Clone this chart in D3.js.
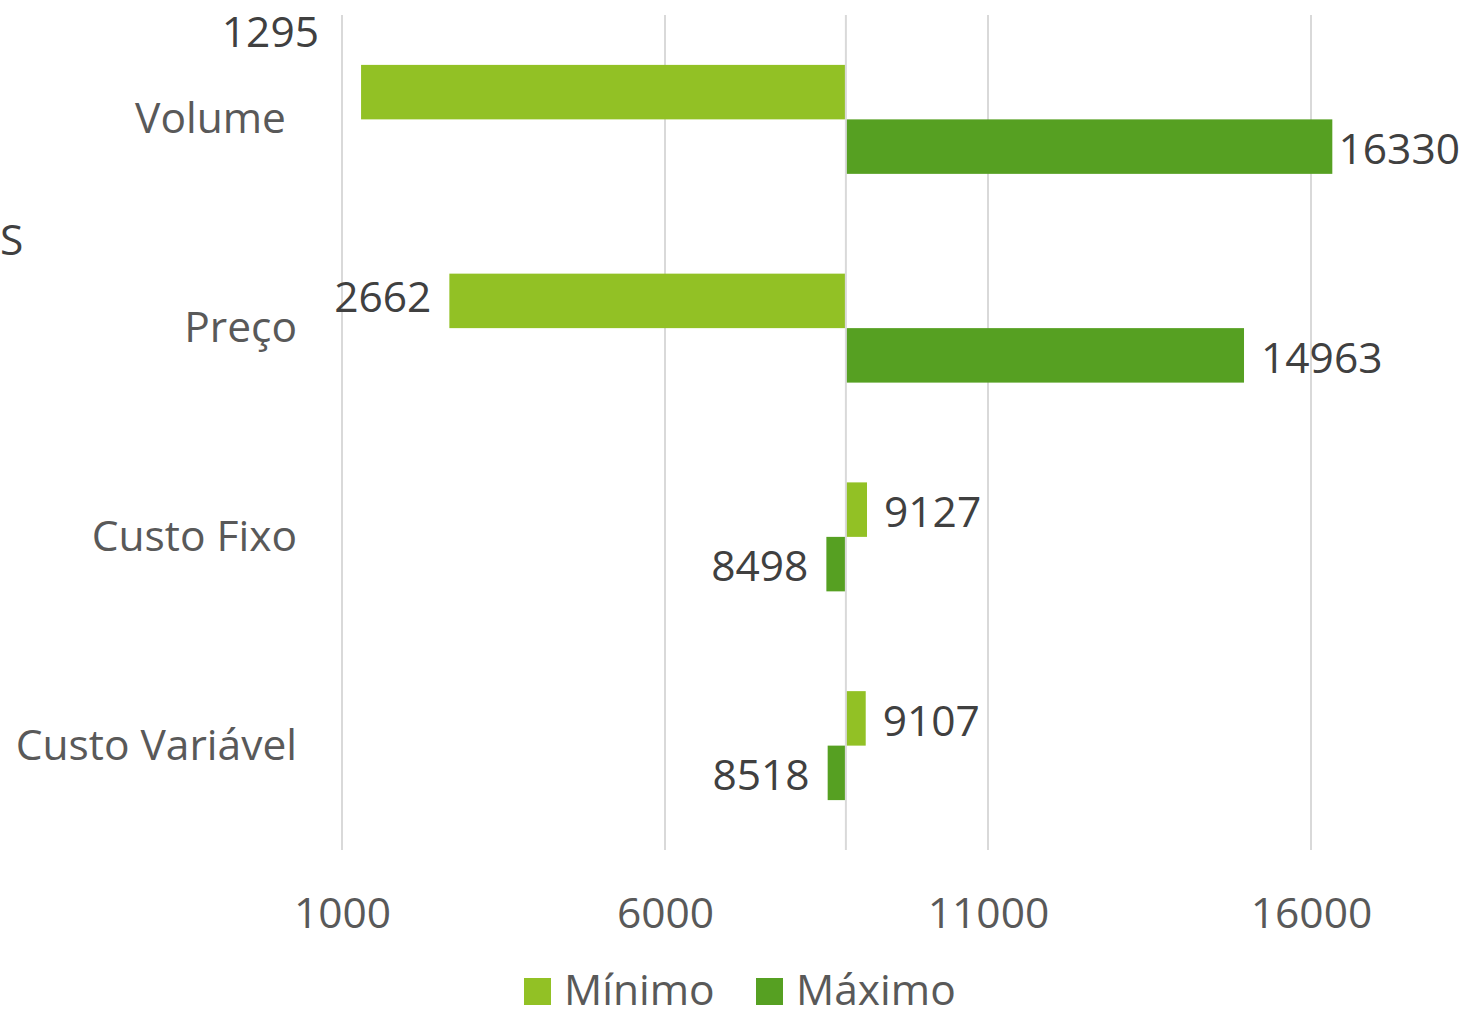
<!DOCTYPE html>
<html><head><meta charset="utf-8">
<script src="https://cdn.jsdelivr.net/npm/d3@7"></script>
<style>
body{margin:0;background:#fff;}
text{font-family:"Open Sans",sans-serif;}
</style></head>
<body><svg id="c" width="1463" height="1010"></svg>
<script>
const categories = ["Volume ", "Preço", "Custo Fixo", "Custo Variável"];
const minimo = [1295, 2662, 9127, 9107];
const maximo = [16330, 14963, 8498, 8518];
const baseValue = 8800;
const tickValues = [1000, 6000, 11000, 16000];
const seriesNames = ["Mínimo", "Máximo"];
const colors = ["#92C125", "#56A022"];
const FS = 42.5;

const svg = d3.select("#c");
const x = d3.scaleLinear().domain([1000, 18000]).range([342, 342 + 17000 * 323 / 5000]);
const y = d3.scaleBand().domain(categories).range([15, 850]).paddingInner(0.478).paddingOuter(0.239);
const sub = d3.scaleBand().domain(seriesNames).range([0, y.bandwidth()]);

// grid
svg.append("g").selectAll("line").data(tickValues).join("line")
  .attr("x1", d => x(d)).attr("x2", d => x(d)).attr("y1", 15).attr("y2", 850)
  .attr("stroke", "#d9d9d9").attr("stroke-width", 2);

// axis tick labels
const xAxis = d3.axisBottom(x).tickValues(tickValues).tickSize(0).tickPadding(0).tickFormat(d3.format("d"));
const gx = svg.append("g").attr("transform", "translate(0,850)").call(xAxis);
gx.select(".domain").remove();
gx.selectAll("text").attr("font-size", FS).attr("fill", "#595959").attr("font-family", "Open Sans")
  .attr("y", 63).attr("dy", "0.35em");

// bars
const rows = categories.map((c, i) => ({c, vals: [minimo[i], maximo[i]]}));
rows.forEach(r => {
  r.vals.forEach((v, j) => {
    const s = seriesNames[j];
    svg.append("rect")
      .attr("x", x(Math.min(v, baseValue)))
      .attr("width", Math.abs(x(v) - x(baseValue)))
      .attr("y", y(r.c) + sub(s))
      .attr("height", sub.bandwidth())
      .attr("fill", colors[j]);
  });
});

// category axis line
svg.append("line").attr("x1", x(baseValue)).attr("x2", x(baseValue)).attr("y1", 15).attr("y2", 850)
  .attr("stroke", "#d9d9d9").attr("stroke-width", 2);

// category labels
svg.append("g").selectAll("text").data(categories).join("text")
  .attr("x", 297).attr("y", d => y(d) + y.bandwidth() / 2 - 1)
  .attr("dy", "0.35em").attr("text-anchor", "end")
  .attr("font-size", FS).attr("fill", "#595959").style("white-space", "pre")
  .text(d => d);

// data labels
rows.forEach(r => {
  r.vals.forEach((v, j) => {
    const s = seriesNames[j];
    const cy = y(r.c) + sub(s) + sub.bandwidth() / 2 + 2.5;
    const t = svg.append("text").attr("font-size", FS).attr("fill", "#404040").text(v);
    const w = t.node().getComputedTextLength();
    if (v >= baseValue) {
      let tx = x(v) + 17;
      if (tx + w > 1460) tx = 1460 - w;
      t.attr("x", tx).attr("y", cy).attr("dy", "0.35em");
    } else {
      let tx = x(v) - 18;
      if (tx - w < x.range()[0] - 50) {
        t.attr("x", x.range()[0] - 23).attr("y", y(r.c) + sub(s) - 33).attr("dy", "0.35em").attr("text-anchor", "end");
      } else {
        t.attr("x", tx).attr("y", j === 0 ? cy - 6 : cy).attr("dy", "0.35em").attr("text-anchor", "end");
      }
    }
  });
});

// clipped axis-title fragment
svg.append("text").attr("x", 0).attr("y", 240).attr("dy", "0.35em").attr("font-size", FS).attr("fill", "#404040").text("S");

// legend
const lg = svg.append("g");
const legX = [524, 756];
seriesNames.forEach((s, j) => {
  lg.append("rect").attr("x", legX[j]).attr("y", 978).attr("width", 27).attr("height", 27).attr("fill", colors[j]);
  lg.append("text").attr("x", legX[j] + 40).attr("y", 990).attr("dy", "0.35em")
    .attr("font-size", FS).attr("fill", "#595959").text(s);
});
</script></body></html>
